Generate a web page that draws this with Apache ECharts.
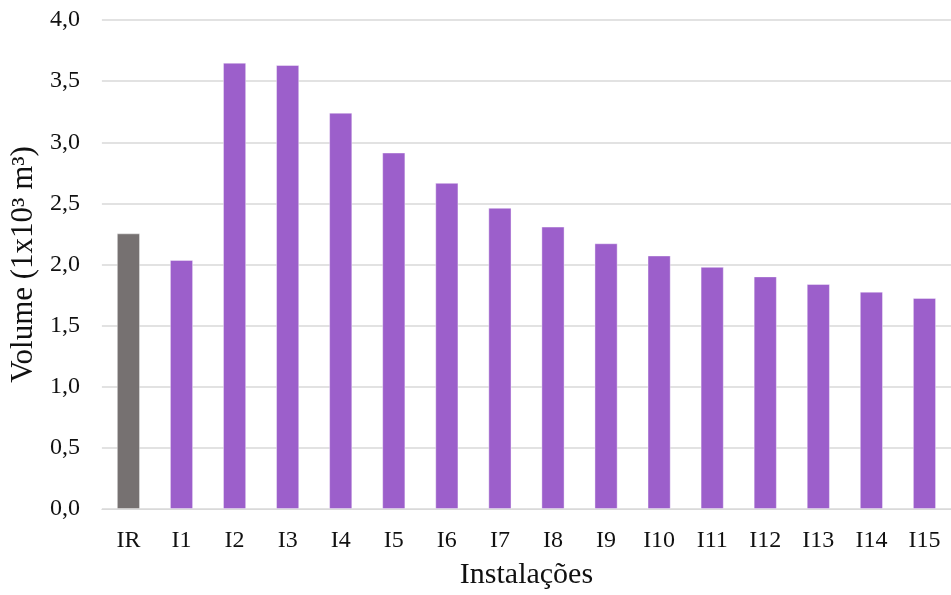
<!DOCTYPE html>
<html>
<head>
<meta charset="utf-8">
<script src="https://cdn.jsdelivr.net/npm/echarts@6/dist/echarts.min.js"></script>
<style>html,body{margin:0;padding:0;background:#fff}#c{width:951px;height:595px}</style>
</head>
<body>
<div id="c"></div>
<script>
const categories = ['IR','I1','I2','I3','I4','I5','I6','I7','I8','I9','I10','I11','I12','I13','I14','I15'];
const values = [2.254, 2.037, 3.650, 3.631, 3.241, 2.915, 2.667, 2.463, 2.309, 2.173, 2.073, 1.980, 1.902, 1.840, 1.777, 1.726];
const barColors = ['#767171','#9C5FCB','#9C5FCB','#9C5FCB','#9C5FCB','#9C5FCB','#9C5FCB','#9C5FCB','#9C5FCB','#9C5FCB','#9C5FCB','#9C5FCB','#9C5FCB','#9C5FCB','#9C5FCB','#9C5FCB'];
const yTicks = {min: 0, max: 4, interval: 0.5};
const yName = 'Volume (1x10³ m³)';
const xName = 'Instalações';

const font = '"Liberation Serif","Times New Roman",serif';
const chart = echarts.init(document.getElementById('c'), null, {renderer: 'canvas'});
chart.setOption({
  animation: false,
  backgroundColor: '#fff',
  grid: {left: 100, right: -7, top: 20, bottom: 83, containLabel: false},
  xAxis: {
    type: 'category',
    data: categories,
    name: xName,
    nameLocation: 'middle',
    nameGap: 51,
    nameTextStyle: {fontFamily: font, fontSize: 30, color: '#111'},
    axisLine: {show: true, lineStyle: {color: '#D9D9D9', width: 1}},
    axisTick: {show: false},
    axisLabel: {fontFamily: font, fontSize: 24, color: '#111', margin: 20}
  },
  yAxis: {
    type: 'value',
    min: yTicks.min, max: yTicks.max, interval: yTicks.interval,
    name: yName,
    nameLocation: 'middle',
    nameGap: 47,
    nameRotate: 90,
    nameTextStyle: {fontFamily: font, fontSize: 31, color: '#111'},
    axisLine: {show: false},
    axisTick: {show: false},
    splitLine: {lineStyle: {color: '#D9D9D9', width: 1.5}},
    axisLabel: {
      fontFamily: font, fontSize: 24, color: '#111', margin: 22,
      formatter: v => v.toFixed(1).replace('.', ',')
    }
  },
  series: [{
    type: 'bar',
    barWidth: 23,
    data: values.map((v, i) => ({value: v, itemStyle: {color: barColors[i]}})),
    itemStyle: {borderColor: 'rgba(255,255,255,0.5)', borderWidth: 0.8}
  }]
});
</script>
</body>
</html>
